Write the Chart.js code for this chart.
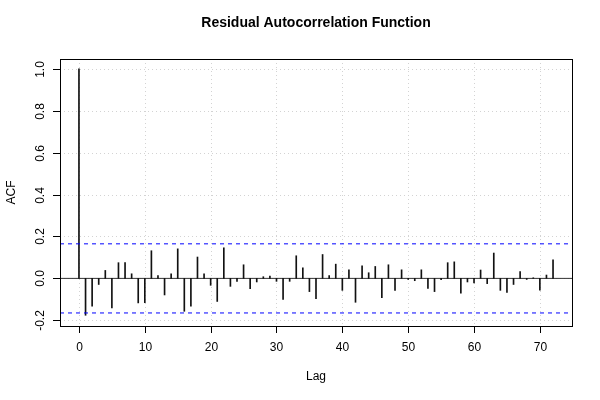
<!doctype html>
<html>
<head>
<meta charset="UTF-8">
<title>Residual Autocorrelation Function</title>
<script src="https://cdn.jsdelivr.net/npm/chart.js@4.4.0/dist/chart.umd.min.js"></script>
<style>
body{
	margin:0;
	background:#fff;
}
</style>
</head>
<body>
<canvas id="acfChart" width="600" height="400"></canvas>

<script>

// data
var lags = [0,1,2,3,4,5,6,7,8,9,10,11,12,13,14,15,16,17,18,19,20,21,22,23,24,25,26,27,28,29,30,
	31,32,33,34,35,36,37,38,39,40,41,42,43,44,45,46,47,48,49,50,51,52,53,54,55,56,57,58,59,60,
	61,62,63,64,65,66,67,68,69,70,71,72];
var acfValues = [1.0, -0.176, -0.133, -0.029, 0.038, -0.141, 0.075, 0.075, 0.022, -0.117, -0.116,
	0.132, 0.013, -0.079, 0.022, 0.141, -0.157, -0.133, 0.102, 0.022, -0.033,
	-0.110, 0.146, -0.038, -0.014, 0.065, -0.049, -0.017, 0.008, 0.011, -0.014,
	-0.100, -0.014, 0.108, 0.051, -0.063, -0.097, 0.114, 0.013, 0.068, -0.057,
	0.041, -0.114, 0.060, 0.027, 0.057, -0.092, 0.065, -0.057, 0.041, -0.005,
	-0.011, 0.041, -0.048, -0.063, -0.006, 0.075, 0.079, -0.071, -0.017, -0.022,
	0.040, -0.025, 0.121, -0.057, -0.067, -0.029, 0.032, -0.005, 0.003, -0.056,
	0.016, 0.089];
var confLimit = 0.165;
var xTicks = [0, 10, 20, 30, 40, 50, 60, 70];
var yTicks = [-0.2, 0.0, 0.2, 0.4, 0.6, 0.8, 1.0];
var yTickLabels = ['-0.2', '0.0', '0.2', '0.4', '0.6', '0.8', '1.0'];
var xRange = [-2.88, 74.88];
var yRange = [-0.2272, 1.0472];

var FONT = '"Liberation Sans", Arial, Helvetica, sans-serif';

function seg(ctx, x1, y1, x2, y2) {
	ctx.beginPath();
	ctx.moveTo(x1, y1);
	ctx.lineTo(x2, y2);
	ctx.stroke();
}

// R style frame, grid, ticks and labels
var rPlot = {
	id: 'rPlot',
	beforeDatasetsDraw: function(chart) {
		var ctx = chart.ctx, a = chart.chartArea, x = chart.scales.x, y = chart.scales.y;
		ctx.save();
		ctx.strokeStyle = '#d3d3d3';
		ctx.lineWidth = 1;
		ctx.setLineDash([1, 3]);
		xTicks.forEach(function(v) {
			var px = Math.round(x.getPixelForValue(v)) + 0.5;
			seg(ctx, px, a.top, px, a.bottom);
		});
		yTicks.forEach(function(v) {
			var py = Math.round(y.getPixelForValue(v)) + 0.5;
			seg(ctx, a.left, py, a.right, py);
		});
		ctx.restore();
	},
	afterDraw: function(chart) {
		var ctx = chart.ctx, a = chart.chartArea, x = chart.scales.x, y = chart.scales.y;
		ctx.save();
		ctx.strokeStyle = '#000';
		ctx.lineWidth = 1;
		ctx.strokeRect(Math.round(a.left) + 0.5, Math.round(a.top) + 0.5,
			Math.round(a.right - a.left), Math.round(a.bottom - a.top));

		ctx.fillStyle = '#000';
		ctx.font = '12px ' + FONT;
		ctx.textAlign = 'center';
		ctx.textBaseline = 'middle';
		xTicks.forEach(function(v) {
			var px = Math.round(x.getPixelForValue(v)) + 0.5;
			seg(ctx, px, a.bottom, px, a.bottom + 7);
			ctx.fillText(String(v), px, a.bottom + 22);
		});
		yTicks.forEach(function(v, i) {
			var py = Math.round(y.getPixelForValue(v)) + 0.5;
			seg(ctx, a.left - 7, py, a.left, py);
			ctx.save();
			ctx.translate(a.left - 19, py);
			ctx.rotate(-Math.PI / 2);
			ctx.fillText(yTickLabels[i], 0, 0);
			ctx.restore();
		});

		ctx.fillText('Lag', (a.left + a.right) / 2, 377);
		ctx.save();
		ctx.translate(12, (a.top + a.bottom) / 2);
		ctx.rotate(-Math.PI / 2);
		ctx.fillText('ACF', 0, 0);
		ctx.restore();

		ctx.font = 'bold 14px ' + FONT;
		ctx.fillText('Residual Autocorrelation Function', (a.left + a.right) / 2, 23);
		ctx.restore();
	}
};

var ctx = document.getElementById('acfChart');
var acfChart = new Chart(ctx, {
	type: 'bar',
	data: {
		datasets: [{
			type: 'line',
			data: [{x: xRange[0], y: 0}, {x: xRange[1], y: 0}],
			borderColor: '#333',
			borderWidth: 1,
			pointRadius: 0,
			order: 3
		}, {
			type: 'line',
			data: [{x: xRange[0], y: confLimit}, {x: xRange[1], y: confLimit}],
			borderColor: '#0000ff',
			borderWidth: 1,
			borderDash: [4, 4],
			pointRadius: 0,
			order: 1
		}, {
			type: 'line',
			data: [{x: xRange[0], y: -confLimit}, {x: xRange[1], y: -confLimit}],
			borderColor: '#0000ff',
			borderWidth: 1,
			borderDash: [4, 4],
			pointRadius: 0,
			order: 1
		}, {
			data: lags.map(function(l, i) { return {x: l, y: acfValues[i]}; }),
			backgroundColor: '#111',
			barThickness: 1,
			order: 2
		}]
	},
	options: {
		responsive: false,
		animation: false,
		events: [],
		layout: {
			padding: {left: 0, right: 28, top: 59, bottom: 0}
		},
		plugins: {
			legend: {display: false},
			title: {display: false},
			tooltip: {enabled: false}
		},
		scales: {
			x: {
				type: 'linear',
				offset: false,
				min: xRange[0],
				max: xRange[1],
				grid: {display: false, offset: false},
				border: {display: false},
				ticks: {display: false},
				afterFit: function(s) { s.height = 74; }
			},
			y: {
				min: yRange[0],
				max: yRange[1],
				grid: {display: false},
				border: {display: false},
				ticks: {display: false},
				afterFit: function(s) { s.width = 60; }
			}
		}
	},
	plugins: [rPlot]
});

</script>
</body>
</html>
